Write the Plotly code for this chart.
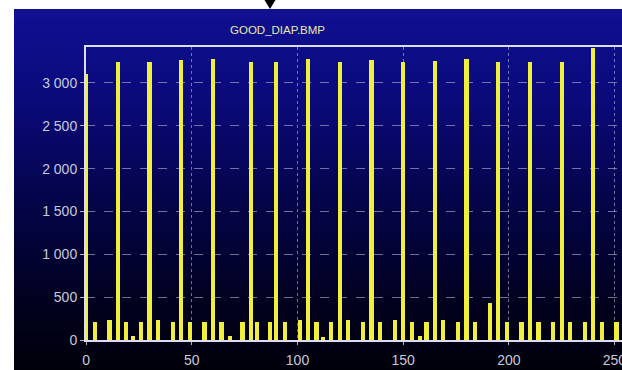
import plotly.graph_objects as go

# ---- data ----
levels = [0, 4, 11, 15, 19, 22, 26, 30, 34, 41, 45, 49, 56, 60, 64, 68, 74, 78, 81, 87,
          90, 94, 101, 105, 109, 112, 116, 120, 124, 131, 135, 139, 146, 150, 154, 158,
          161, 165, 169, 176, 180, 184, 191, 195, 199, 206, 210, 214, 221, 225, 229,
          236, 240, 244, 251]
counts = [3110, 212, 239, 3250, 212, 44, 212, 3245, 239, 207, 3265, 207, 212, 3275, 212,
          44, 210, 3250, 210, 210, 3250, 210, 239, 3280, 210, 37, 210, 3250, 239, 210,
          3270, 210, 239, 3250, 210, 44, 210, 3255, 239, 210, 3275, 210, 433, 3250, 210,
          210, 3250, 210, 210, 3250, 210, 210, 3410, 210, 210]
y_ticks = [0, 500, 1000, 1500, 2000, 2500, 3000]
y_tick_text = ["0", "500", "1 000", "1 500", "2 000", "2 500", "3 000"]
x_ticks = [0, 50, 100, 150, 200, 250]
x_tick_text = ["0", "50", "100", "150", "200", "250"]
title_text = "GOOD_DIAP.BMP"

W, H = 622, 370
L, T, B = 86, 47, 30
PW, PH = W - L, H - T - B


def px(x):
    return (x - L) / PW


def py(y):
    return (H - B - y) / PH


# gradient panel made of thin strips
stops = [(9, (16, 16, 146)), (100, (10, 10, 122)), (200, (4, 4, 74)), (300, (1, 1, 32)), (370, (0, 0, 10))]


def col(y):
    for (y0, c0), (y1, c1) in zip(stops[:-1], stops[1:]):
        if y0 <= y <= y1:
            t = (y - y0) / (y1 - y0)
            return "rgb(%d,%d,%d)" % tuple(round(a + (b - a) * t) for a, b in zip(c0, c1))
    return "rgb(0,0,10)"


shapes = []
step = 4
y = 9
while y < 370:
    y2 = min(y + step, 370)
    shapes.append(dict(type="rect", xref="paper", yref="paper", layer="below",
                       x0=px(14), x1=px(W), y0=py(y2 + 0.5), y1=py(y),
                       fillcolor=col((y + y2) / 2), line=dict(width=0)))
    y = y2

# black down-pointing marker at the top
shapes.append(dict(type="path", xref="paper", yref="paper", layer="above",
                   path="M %f,%f L %f,%f L %f,%f Z" % (px(264.5), py(0), px(275.5), py(0), px(270), py(9)),
                   fillcolor="black", line=dict(width=0)))

fig = go.Figure(go.Bar(x=levels, y=counts, width=2.0,
                       marker=dict(color="#f0f03c", line=dict(width=0))))

fig.update_layout(
    width=W, height=H,
    margin=dict(l=L, r=0, t=T, b=B, pad=0, autoexpand=False),
    paper_bgcolor="white", plot_bgcolor="rgba(0,0,0,0)",
    showlegend=False, bargap=0,
    shapes=shapes,
    annotations=[dict(text=title_text, xref="paper", yref="paper", x=px(277), y=py(30),
                      showarrow=False, xanchor="center", yanchor="middle",
                      font=dict(family="Liberation Sans, Arial", size=11.5, color="#e8e8a8"))],
)
fig.update_xaxes(range=[-0.1, (W - L) / 2.113 - 0.1], tickvals=x_ticks, ticktext=x_tick_text,
                 showgrid=True, gridcolor="rgba(170,170,210,0.65)", griddash="dot", gridwidth=1,
                 showline=True, linecolor="#dcdcff", linewidth=2, mirror=True,
                 ticks="outside", ticklen=3, tickcolor="#b0b0d0", ticklabelstandoff=3,
                 ticklabeloverflow="allow", zeroline=False,
                 tickfont=dict(family="Liberation Sans, Arial", size=14, color="#c8c8dc"))
fig.update_yaxes(range=[0, 3420], tickvals=y_ticks, ticktext=y_tick_text,
                 showgrid=True, gridcolor="rgba(170,170,210,0.65)", griddash="dash", gridwidth=1,
                 showline=True, linecolor="#dcdcff", linewidth=2,
                 ticks="outside", ticklen=4, tickcolor="#b0b0d0", zeroline=False,
                 tickfont=dict(family="Liberation Sans, Arial", size=14, color="#c8c8dc"))

fig.write_html("out.html", config={"displayModeBar": False},
               post_script="document.body.style.margin='0';document.body.style.overflow='hidden';")
